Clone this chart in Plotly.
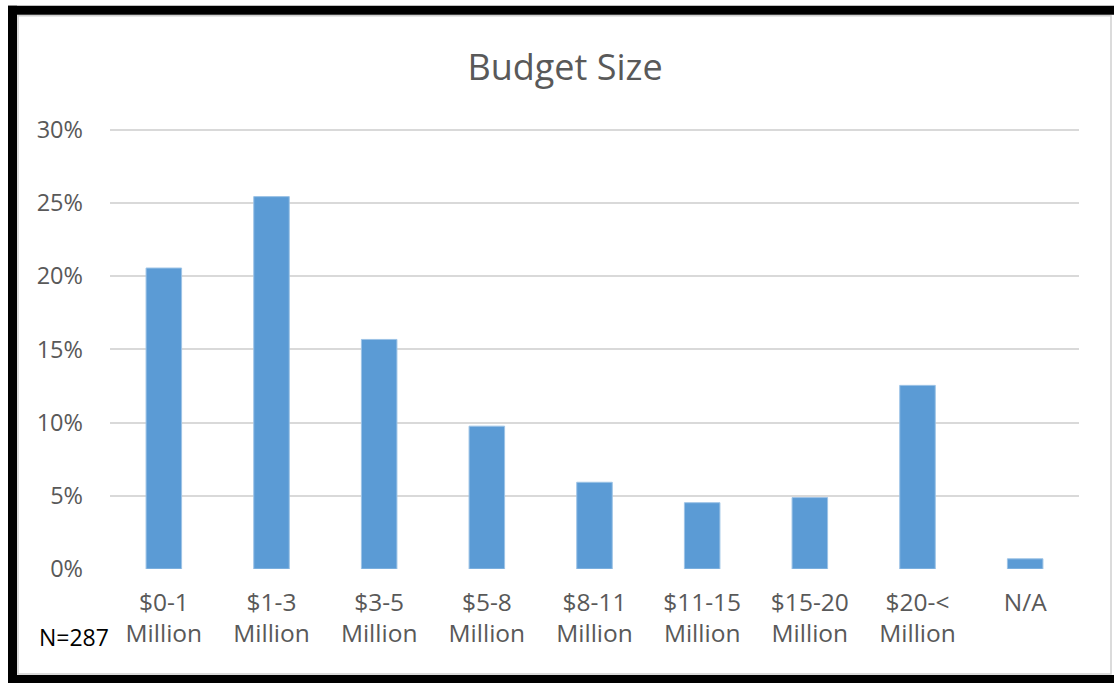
import plotly.graph_objects as go

# Survey responses by annual budget size (N=287)
categories = ["$0-1<br>Million", "$1-3<br>Million", "$3-5<br>Million", "$5-8<br>Million",
              "$8-11<br>Million", "$11-15<br>Million", "$15-20<br>Million",
              "$20-<<br>Million", "N/A"]
counts = [59, 73, 45, 28, 17, 13, 14, 36, 2]
total = 287
shares = [c / total for c in counts]

y_ticks = [0, 0.05, 0.10, 0.15, 0.20, 0.25, 0.30]
y_top = 0.306  # a little headroom so the 30% gridline is drawn

W, H = 1114, 683
L, R, B = 110, 35, 114
ph = (569 - 130) * y_top / 0.30
T = H - B - ph
pw = W - L - R


def px_x(x):
    return (x - L) / pw


def px_y(y):
    return (H - B - y) / ph


FONT = "Open Sans"
GREY = "#595959"

fig = go.Figure(go.Bar(
    x=categories,
    y=shares,
    width=0.33,
    marker=dict(color="#5B9BD5", line=dict(color="#9DC3E6", width=1)),
    hoverinfo="skip",
))

fig.update_layout(
    width=W, height=H,
    margin=dict(l=L, r=R, t=T, b=B),
    paper_bgcolor="white",
    plot_bgcolor="white",
    showlegend=False,
    title=dict(text="Budget Size", x=565 / W, xanchor="center", y=1 - 67 / H, yanchor="middle",
               font=dict(family=FONT, size=36, color=GREY)),
    xaxis=dict(
        type="category",
        showgrid=False, zeroline=False, showline=False, ticks="",
        tickfont=dict(family=FONT, size=24.5, color=GREY),
        ticklabelstandoff=16,
    ),
    yaxis=dict(
        range=[0, y_top],
        tickvals=y_ticks,
        tickformat=".0%",
        showgrid=True, gridcolor="#D9D9D9", gridwidth=1.5,
        zeroline=False, showline=False, ticks="",
        tickfont=dict(family=FONT, size=23.5, color=GREY),
        ticklabelstandoff=26,
    ),
    annotations=[dict(
        text="N=287", xref="paper", yref="paper",
        x=px_x(74), y=px_y(637), xanchor="center", yanchor="middle",
        showarrow=False, font=dict(family=FONT, size=23, color="black"),
    )],
    shapes=[
        # frame: thin grey inner edge
        dict(type="rect", xref="paper", yref="paper", x0=px_x(18), x1=px_x(1111),
             y0=px_y(674), y1=px_y(16), line=dict(color="#D0D0D0", width=1.5), layer="below"),
        # heavy black frame on left, top and bottom
        dict(type="rect", xref="paper", yref="paper", x0=px_x(8), x1=px_x(17),
             y0=px_y(683), y1=px_y(6), fillcolor="black", line=dict(width=0)),
        dict(type="rect", xref="paper", yref="paper", x0=px_x(8), x1=px_x(1114),
             y0=px_y(15), y1=px_y(6), fillcolor="black", line=dict(width=0)),
        dict(type="rect", xref="paper", yref="paper", x0=px_x(8), x1=px_x(1114),
             y0=px_y(683), y1=px_y(675), fillcolor="black", line=dict(width=0)),
    ],
)

fig.write_html("out.html")
